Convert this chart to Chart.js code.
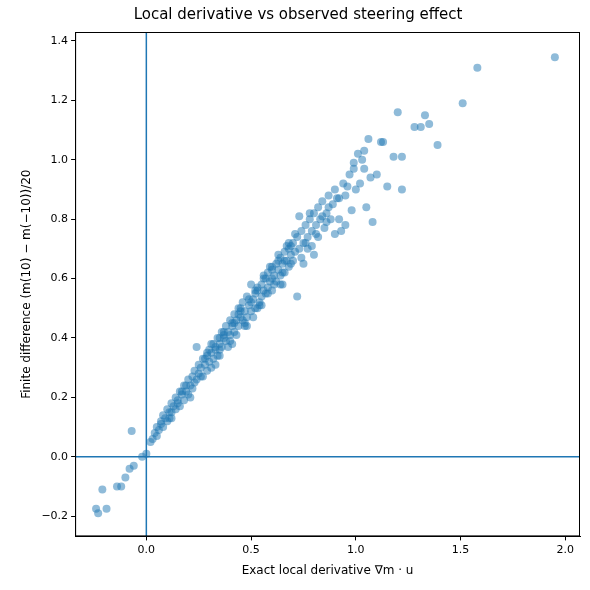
<!DOCTYPE html>
<html>
<head>
<meta charset="utf-8">
<script src="https://cdn.jsdelivr.net/npm/chart.js@4"></script>
<style>
  html, body { margin: 0; padding: 0; background: #fff; }
  #wrap { width: 590px; height: 590px; }
</style>
</head>
<body>
<div id="wrap"><canvas id="chart"></canvas></div>
<script>
// exact local derivative (x) vs finite difference (y)
const exactDeriv = [
  -0.23, -0.24, -0.19, -0.21, -0.14, -0.12, -0.10, -0.08, -0.06, -0.07, -0.02, 0.00,
  0.02, 0.03, 0.04, 0.05, 0.05, 0.06, 0.07, 0.08, 0.08, 0.09, 0.10, 0.10, 0.11, 0.12, 0.12,
  0.13, 0.14, 0.14, 0.15, 0.16, 0.16, 0.17, 0.18, 0.18, 0.19, 0.20, 0.20, 0.21, 0.22, 0.22,
  0.23, 0.24, 0.24, 0.25, 0.25, 0.26, 0.27, 0.27, 0.28, 0.29, 0.29, 0.30, 0.30, 0.31, 0.32,
  0.32, 0.33, 0.34, 0.34, 0.35, 0.36, 0.36, 0.37, 0.38, 0.38, 0.39, 0.40, 0.40, 0.41, 0.42,
  0.42, 0.43, 0.44, 0.44, 0.45, 0.46, 0.46, 0.47, 0.48, 0.48, 0.49, 0.50, 0.50, 0.51, 0.52,
  0.52, 0.53, 0.54, 0.55, 0.55, 0.56, 0.57, 0.58, 0.58, 0.59, 0.60, 0.60, 0.61, 0.62, 0.62,
  0.63, 0.64, 0.64, 0.65, 0.66, 0.66, 0.67, 0.68, 0.68, 0.69, 0.70, 0.70, 0.71, 0.72, 0.72,
  0.73, 0.73, 0.74, 0.74, 0.75, 0.75, 0.76, 0.77, 0.77, 0.78, 0.79, 0.80, 0.80, 0.81, 0.82,
  0.82, 0.83, 0.84, 0.85, 0.86, 0.87, 0.88, 0.89, 0.90, 0.90, 0.91, 0.92, 0.93, 0.94, 0.95,
  0.95, 0.97, 0.98, 0.99, 1.00, 1.01, 1.02, 1.03, 1.04, 1.05, 1.06, 1.07, 1.08, 1.10, 1.12,
  1.13, 1.15, 1.18, 1.20, 1.22, 1.22, 1.28, 1.31, 1.33, 1.35, 1.39, 1.51, 1.58, 1.95,
  0.31, 0.35, 0.40, 0.45, 0.50, 0.53, 0.57, 0.60, 0.63, 0.66, 0.69, 0.35, 0.42, 0.47, 0.56, 0.65,
  0.07, 0.11, 0.15, 0.19, 0.23, 0.26, 0.28, 0.31, 0.33, 0.35, 0.37, 0.39, 0.41, 0.43, 0.45,
  0.47, 0.49, 0.51, 0.53, 0.54, 0.56, 0.58, 0.59, 0.61, 0.63, 0.65, 0.67, 0.69, 0.71, 0.76,
  0.78, 0.81, 0.84, 0.87, 0.92, 0.96, 0.99, 1.04, 0.29, 0.33, 0.37, 0.41, 0.44, 0.48, 0.52,
  0.55, 0.60, 0.64, 0.68, 0.79, 0.86, 0.12, 0.17, 0.21
];
const finiteDiff = [
  -0.19, -0.175, -0.175, -0.11, -0.10, -0.10, -0.07, -0.04, -0.03, 0.087, 0.00, 0.01,
  0.05, 0.06, 0.08, 0.07, 0.10, 0.09, 0.12, 0.10, 0.14, 0.13, 0.12, 0.16, 0.15, 0.18, 0.13,
  0.17, 0.16, 0.20, 0.19, 0.17, 0.22, 0.21, 0.19, 0.24, 0.22, 0.21, 0.26, 0.24, 0.27, 0.23,
  0.29, 0.26, 0.37, 0.28, 0.31, 0.30, 0.27, 0.33, 0.31, 0.34, 0.29, 0.32, 0.36, 0.35, 0.33,
  0.38, 0.36, 0.40, 0.34, 0.38, 0.42, 0.37, 0.40, 0.44, 0.39, 0.42, 0.46, 0.41, 0.44, 0.48,
  0.42, 0.46, 0.50, 0.44, 0.47, 0.52, 0.46, 0.49, 0.54, 0.47, 0.51, 0.58, 0.49, 0.53, 0.55,
  0.50, 0.56, 0.52, 0.58, 0.54, 0.60, 0.55, 0.62, 0.57, 0.59, 0.63, 0.56, 0.61, 0.65, 0.59,
  0.63, 0.67, 0.61, 0.65, 0.69, 0.62, 0.66, 0.70, 0.64, 0.68, 0.72, 0.66, 0.69, 0.54, 0.74,
  0.81, 0.70, 0.76, 0.67, 0.65, 0.72, 0.78, 0.74, 0.70, 0.80, 0.76, 0.68, 0.82, 0.78, 0.84,
  0.74, 0.80, 0.86, 0.77, 0.82, 0.88, 0.80, 0.85, 0.75, 0.90, 0.87, 0.80, 0.76, 0.92, 0.78,
  0.88, 0.95, 0.83, 0.97, 0.90, 1.02, 0.92, 1.00, 1.03, 0.84, 1.07, 0.94, 0.79, 0.95, 1.06,
  1.06, 0.91, 1.01, 1.16, 0.90, 1.01, 1.11, 1.11, 1.15, 1.12, 1.05, 1.19, 1.31, 1.345,
  0.38, 0.36, 0.39, 0.50, 0.52, 0.50, 0.60, 0.60, 0.66, 0.66, 0.71, 0.40, 0.45, 0.45, 0.56, 0.58,
  0.11, 0.13, 0.18, 0.24, 0.25, 0.27, 0.33, 0.30, 0.37, 0.34, 0.41, 0.37, 0.45, 0.41, 0.49,
  0.44, 0.53, 0.47, 0.57, 0.51, 0.61, 0.55, 0.64, 0.58, 0.68, 0.62, 0.71, 0.65, 0.75, 0.72,
  0.82, 0.75, 0.81, 0.84, 0.87, 0.91, 0.99, 0.97, 0.35, 0.31, 0.42, 0.38, 0.48, 0.44, 0.56,
  0.51, 0.64, 0.58, 0.72, 0.71, 0.79, 0.15, 0.22, 0.20
];
const xTicks = [0, 0.5, 1.0, 1.5, 2.0];
const yTicks = [-0.2, 0, 0.2, 0.4, 0.6, 0.8, 1.0, 1.2, 1.4];
const xRange = [-0.34, 2.07];
const yRange = [-0.268, 1.43];

const blue = '#1f77b4';
const points = exactDeriv.map((x, i) => ({ x: x, y: finiteDiff[i] }));
const fmt = v => (v < 0 ? '\u2212' : '') + Math.abs(v).toFixed(1);

const frame = {
  id: 'frame',
  afterDraw(chart) {
    const a = chart.chartArea, c = chart.ctx;
    c.save();
    c.strokeStyle = '#000';
    c.lineWidth = 1;
    c.strokeRect(a.left + 0.5, a.top + 0.5, a.right - a.left - 1, a.bottom - a.top - 1);
    c.restore();
  }
};

const axisGrid = { display: true, drawOnChartArea: false, drawTicks: true, tickLength: 4, tickColor: '#000' };

new Chart(document.getElementById('chart'), {
  type: 'scatter',
  data: {
    datasets: [
      {
        data: points,
        backgroundColor: 'rgba(31,119,180,0.5)',
        borderWidth: 0,
        pointRadius: 4,
        pointHoverRadius: 4
      },
      {
        type: 'line',
        data: [{ x: 0, y: yRange[0] }, { x: 0, y: yRange[1] }],
        borderColor: blue, borderWidth: 1.5, pointRadius: 0
      },
      {
        type: 'line',
        data: [{ x: xRange[0], y: 0 }, { x: xRange[1], y: 0 }],
        borderColor: blue, borderWidth: 1.5, pointRadius: 0
      }
    ]
  },
  options: {
    responsive: true,
    maintainAspectRatio: false,
    animation: false,
    layout: { padding: { left: 16, right: 10, top: 4, bottom: 8 } },
    plugins: {
      legend: { display: false },
      tooltip: { enabled: false },
      title: {
        display: true,
        text: 'Local derivative vs observed steering effect',
        color: '#000',
        font: { family: 'DejaVu Sans', size: 15, weight: 'normal' },
        padding: { top: 2, bottom: 8 }
      }
    },
    scales: {
      x: {
        type: 'linear',
        min: xRange[0], max: xRange[1],
        afterBuildTicks: s => { s.ticks = xTicks.map(v => ({ value: v })); },
        grid: axisGrid,
        border: { color: '#000' },
        ticks: { color: '#000', font: { family: 'DejaVu Sans', size: 11 }, callback: fmt, maxRotation: 0 },
        title: { display: true, text: 'Exact local derivative \u2207m \u00b7 u', color: '#000',
                 font: { family: 'DejaVu Sans', size: 12 } }
      },
      y: {
        type: 'linear',
        min: yRange[0], max: yRange[1],
        afterBuildTicks: s => { s.ticks = yTicks.map(v => ({ value: v })); },
        grid: axisGrid,
        border: { color: '#000' },
        ticks: { color: '#000', font: { family: 'DejaVu Sans', size: 11 }, callback: fmt },
        title: { display: true, text: 'Finite difference (m(10) \u2212 m(\u221210))/20', color: '#000',
                 font: { family: 'DejaVu Sans', size: 12 } }
      }
    }
  },
  plugins: [frame]
});
</script>
</body>
</html>
